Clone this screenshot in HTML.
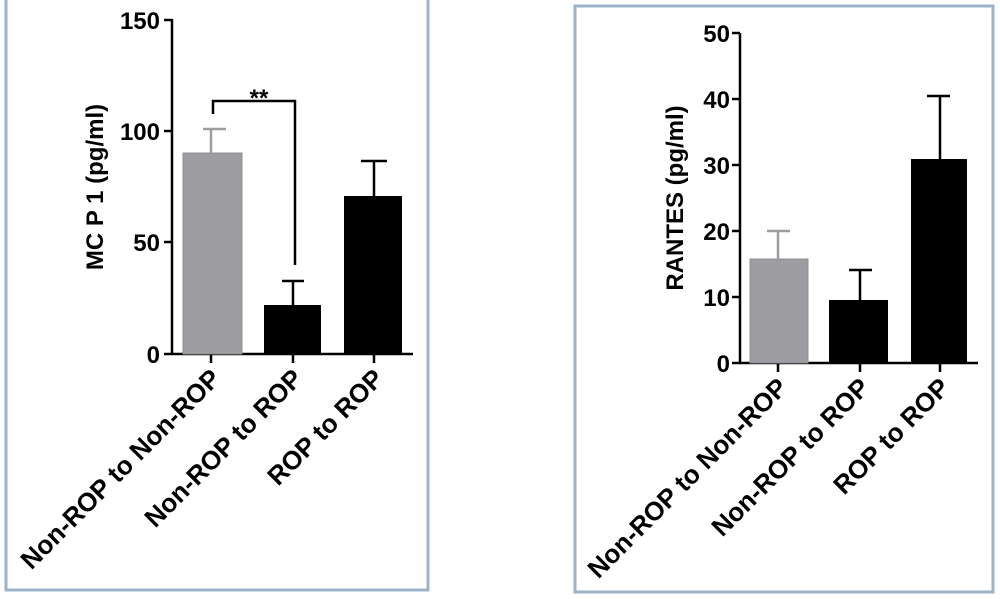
<!DOCTYPE html>
<html><head><meta charset="utf-8"><style>
html,body{margin:0;padding:0;background:#fff;}
svg{display:block;}
text{font-family:"Liberation Sans",Arial,sans-serif;font-weight:bold;fill:#000;}
</style></head><body>
<svg width="1000" height="599" viewBox="0 0 1000 599" xmlns="http://www.w3.org/2000/svg">
<rect x="6" y="-10" width="422" height="600" fill="none" stroke="#9db3cc" stroke-width="3"/>
<rect x="575" y="6" width="418" height="586" fill="none" stroke="#9db3cc" stroke-width="3"/>

<!-- LEFT CHART -->
<g stroke="#000" stroke-width="2.5" fill="none">
  <line x1="172" y1="19" x2="172" y2="355"/>
  <line x1="171" y1="354" x2="413" y2="354"/>
  <line x1="164" y1="20" x2="172" y2="20"/>
  <line x1="164" y1="131" x2="172" y2="131"/>
  <line x1="164" y1="242" x2="172" y2="242"/>
  <line x1="164" y1="354" x2="172" y2="354"/>
  <line x1="211" y1="354" x2="211" y2="363"/>
  <line x1="293" y1="354" x2="293" y2="363"/>
  <line x1="374" y1="354" x2="374" y2="363"/>
</g>
<rect x="183" y="153" width="59" height="201" fill="#9d9ca1" stroke="#8f8f94" stroke-width="1"/>
<g stroke="#9d9ca1" stroke-width="2.5"><line x1="211" y1="153" x2="211" y2="129"/><line x1="203" y1="129" x2="226" y2="129"/></g>
<rect x="264" y="305" width="57" height="49" fill="#000"/>
<g stroke="#000" stroke-width="2.5"><line x1="293" y1="305" x2="293" y2="281"/><line x1="282" y1="281" x2="304" y2="281"/></g>
<rect x="344" y="196" width="58" height="158" fill="#000"/>
<g stroke="#000" stroke-width="2.5"><line x1="374" y1="196" x2="374" y2="161"/><line x1="361" y1="161" x2="387" y2="161"/></g>
<polyline points="213,114 213,101 295,101 295,265" fill="none" stroke="#000" stroke-width="2.5"/>
<text x="259" y="106" font-size="24" text-anchor="middle">**</text>
<g font-size="24" text-anchor="end">
  <text x="160" y="29">150</text>
  <text x="160" y="140">100</text>
  <text x="160" y="251">50</text>
  <text x="160" y="363">0</text>
</g>
<text transform="translate(103,187) rotate(-90)" font-size="24" text-anchor="middle">MC P 1 (pg/ml)</text>
<g font-size="26" text-anchor="end">
  <text transform="translate(222,380) rotate(-45)">Non-ROP to Non-ROP</text>
  <text transform="translate(304,380) rotate(-45)">Non-ROP to ROP</text>
  <text transform="translate(385,380) rotate(-45)">ROP to ROP</text>
</g>

<!-- RIGHT CHART -->
<g stroke="#000" stroke-width="2.5" fill="none">
  <line x1="740" y1="33" x2="740" y2="364"/>
  <line x1="739" y1="363" x2="978" y2="363"/>
  <line x1="732" y1="33" x2="740" y2="33"/>
  <line x1="732" y1="99" x2="740" y2="99"/>
  <line x1="732" y1="165" x2="740" y2="165"/>
  <line x1="732" y1="231" x2="740" y2="231"/>
  <line x1="732" y1="297" x2="740" y2="297"/>
  <line x1="732" y1="363" x2="740" y2="363"/>
  <line x1="778" y1="363" x2="778" y2="372"/>
  <line x1="860" y1="363" x2="860" y2="372"/>
  <line x1="940" y1="363" x2="940" y2="372"/>
</g>
<rect x="750" y="259" width="58" height="104" fill="#9d9ca1" stroke="#8f8f94" stroke-width="1"/>
<g stroke="#9d9ca1" stroke-width="2.5"><line x1="778" y1="259" x2="778" y2="231"/><line x1="767" y1="231" x2="790" y2="231"/></g>
<rect x="829" y="300" width="59" height="63" fill="#000"/>
<g stroke="#000" stroke-width="2.5"><line x1="860" y1="300" x2="860" y2="270"/><line x1="849" y1="270" x2="872" y2="270"/></g>
<rect x="911" y="159" width="56" height="204" fill="#000"/>
<g stroke="#000" stroke-width="2.5"><line x1="940" y1="159" x2="940" y2="96"/><line x1="927" y1="96" x2="950" y2="96"/></g>
<g font-size="24" text-anchor="end">
  <text x="730" y="42">50</text>
  <text x="730" y="108">40</text>
  <text x="730" y="174">30</text>
  <text x="730" y="240">20</text>
  <text x="730" y="306">10</text>
  <text x="730" y="372">0</text>
</g>
<text transform="translate(683,198) rotate(-90)" font-size="24" text-anchor="middle">RANTES (pg/ml)</text>
<g font-size="26" text-anchor="end">
  <text transform="translate(789,389) rotate(-45)">Non-ROP to Non-ROP</text>
  <text transform="translate(871,389) rotate(-45)">Non-ROP to ROP</text>
  <text transform="translate(951,389) rotate(-45)">ROP to ROP</text>
</g>
</svg>
</body></html>
